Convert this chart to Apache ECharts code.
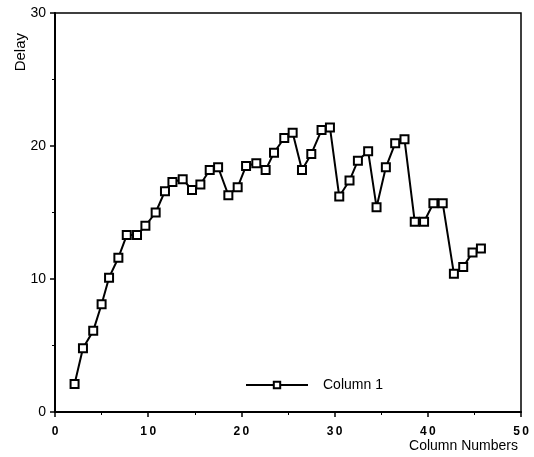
<!DOCTYPE html>
<html>
<head>
<meta charset="utf-8">
<script src="https://cdn.jsdelivr.net/npm/echarts@6/dist/echarts.min.js"></script>
<style>
  html, body { margin: 0; padding: 0; background: #fff; }
  #main { width: 534px; height: 457px; }
</style>
</head>
<body>
<div id="main"></div>
<script>
// values
var colNumbers = [2.1, 3.0, 4.1, 5.0, 5.8, 6.8, 7.7, 8.8, 9.7, 10.8, 11.8, 12.6, 13.7, 14.7, 15.6,
    16.6, 17.5, 18.6, 19.6, 20.5, 21.6, 22.6, 23.5, 24.6, 25.5, 26.5, 27.5, 28.6, 29.5, 30.5,
    31.6, 32.5, 33.6, 34.5, 35.5, 36.5, 37.5, 38.6, 39.6, 40.6, 41.6, 42.8, 43.8, 44.8, 45.7];
var delay = [2.1, 4.8, 6.1, 8.1, 10.1, 11.6, 13.3, 13.3, 14.0, 15.0, 16.6, 17.3, 17.5, 16.7, 17.1,
    18.2, 18.4, 16.3, 16.9, 18.5, 18.7, 18.2, 19.5, 20.6, 21.0, 18.2, 19.4, 21.2, 21.4, 16.2,
    17.4, 18.9, 19.6, 15.4, 18.4, 20.2, 20.5, 14.3, 14.3, 15.7, 15.7, 10.4, 10.9, 12.0, 12.3];
var seriesName = 'Column 1';

var pts = colNumbers.map(function (x, i) { return [x, delay[i]]; });

// the x labels have their digits spread a bit
function spaced(v) {
    return String(v).split('').join('\u2009');
}

var myChart = echarts.init(document.getElementById('main'));
var font = 'Liberation Sans, Arial, sans-serif';
var option = {
    animation: false,
    backgroundColor: '#fff',
    textStyle: { fontFamily: font, color: '#000' },
    grid: {
        left: 55, right: 13, top: 13, bottom: 45,
        show: true, borderColor: '#000', borderWidth: 1.5
    },
    legend: {
        data: [seriesName],
        left: 240, top: 373,
        itemWidth: 62, itemHeight: 8,
        textStyle: { fontSize: 14, color: '#000', fontFamily: font, padding: [0, 0, 0, 10] }
    },
    xAxis: {
        type: 'value', min: 0, max: 50, interval: 10,
        axisLine: { lineStyle: { color: '#000', width: 2 } },
        axisTick: { length: 5, lineStyle: { color: '#000', width: 1.5 } },
        minorTick: { show: true, splitNumber: 2, length: 3, lineStyle: { color: '#000' } },
        splitLine: { show: false },
        axisLabel: { margin: 14, fontSize: 12, fontWeight: 'bold', color: '#000', fontFamily: font, formatter: spaced }
    },
    yAxis: {
        type: 'value', min: 0, max: 30, interval: 10,
        axisLine: { lineStyle: { color: '#000', width: 2 } },
        axisTick: { length: 5, lineStyle: { color: '#000', width: 1.5 } },
        minorTick: { show: true, splitNumber: 2, length: 3, lineStyle: { color: '#000' } },
        splitLine: { show: false },
        axisLabel: { margin: 9, fontSize: 14, color: '#000', fontFamily: font }
    },
    graphic: [{
        type: 'text', left: 13, top: 33, rotation: Math.PI / 2,
        style: { text: 'Delay', fontSize: 15, fill: '#000', fontFamily: font }
    }, {
        type: 'text', right: 16, top: 439,
        style: { text: 'Column Numbers', fontSize: 14, fill: '#000', fontFamily: font }
    }],
    series: [{
        name: seriesName,
        type: 'line',
        data: pts,
        symbol: 'rect',
        symbolSize: 8,
        lineStyle: { color: '#000', width: 2 },
        itemStyle: { color: '#fff', borderColor: '#000', borderWidth: 2 }
    }]
};
myChart.setOption(option);
</script>
</body>
</html>
